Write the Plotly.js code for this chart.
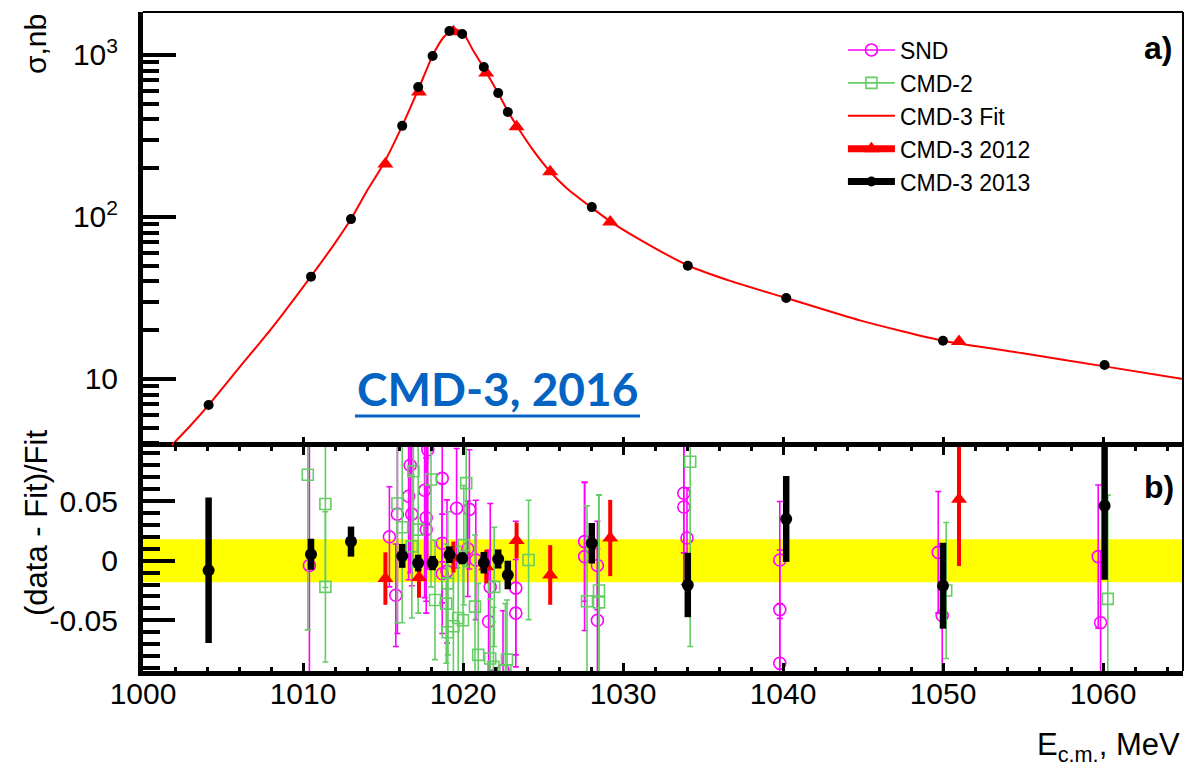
<!DOCTYPE html>
<html>
<head>
<meta charset="utf-8">
<script src="https://cdn.plot.ly/plotly-3.0.1.min.js"></script>
<style>
  html, body { margin: 0; padding: 0; background: #fff; }
  #chart { width: 1194px; height: 769px; }
</style>
</head>
<body>
<div id="chart"></div>
<script>
// phi(1020) -> K+K- cross section: CMD-3 scans with fit, and residuals vs SND / CMD-2

// CMD-3 2013 scan
const E2013 = [1004.1, 1010.5, 1013.0, 1016.2, 1017.2, 1018.1, 1019.15, 1019.95, 1021.3, 1022.2, 1022.8, 1028.05, 1034.05, 1040.2, 1050.0, 1060.1];
const sigma2013 = [6.9, 42.8, 97, 365, 634, 986, 1406, 1348, 843, 582, 444, 115, 50, 31.6, 17.2, 12.2];
const resid2013 = [-0.008, 0.0054, 0.016, 0.004, -0.002, -0.002, 0.005, 0.002, -0.0017, 0.0014, -0.012, 0.0146, -0.0204, 0.035, -0.021, 0.046];
const err2013 = [0.061, 0.013, 0.0126, 0.01, 0.007, 0.006, 0.007, 0.005, 0.009, 0.008, 0.012, 0.017, 0.027, 0.036, 0.036, 0.062];

// CMD-3 2012 scan
const E2012 = [1015.15, 1017.25, 1019.4, 1021.45, 1023.35, 1025.45, 1029.2, 1051.0];
const sigma2012 = [212, 590, 1390, 774, 360, 190, 93, 17];
const resid2012 = [-0.015, -0.014, 0.003, -0.005, 0.017, -0.012, 0.019, 0.0515];
const err2012 = [0.022, 0.017, 0.013, 0.014, 0.015, 0.025, 0.032, 0.056];

// CMD-3 fit curve
const fitE = [1001.8, 1003.0, 1004.1, 1006.0, 1008.0, 1010.5, 1012.0, 1013.0, 1014.0, 1015.0, 1016.2, 1017.2, 1018.1, 1018.8, 1019.45, 1020.0, 1020.6, 1021.3, 1022.2, 1022.8, 1023.4, 1024.3, 1025.45, 1026.5, 1028.0, 1029.2, 1031.0, 1034.1, 1036.8, 1040.2, 1044.8, 1050.0, 1055.0, 1060.0, 1065.0];
const fitSigma = [3.9, 5.2, 6.9, 11.7, 20.3, 43, 69, 97, 145, 210, 365, 610, 990, 1290, 1440, 1370, 1080, 830, 580, 450, 360, 265, 190, 150, 115, 94, 73, 50, 40, 31.6, 23, 17.2, 14.4, 12.0, 10.0];

// SND residuals
const E_SND = [1010.4, 1015.4, 1015.8, 1015.9, 1016.7, 1016.6, 1016.8, 1017.8, 1017.6, 1017.7, 1017.7, 1018.7, 1018.7, 1018.7, 1019.0, 1019.6, 1020.3, 1020.4, 1020.8, 1021.6, 1021.7, 1022.5, 1023.3, 1023.3, 1027.6, 1027.6, 1028.4, 1028.4, 1033.8, 1033.8, 1034.0, 1039.8, 1039.8, 1039.8, 1049.7, 1049.95, 1059.7, 1059.85];
const resid_SND = [-0.004, 0.020, -0.029, 0.039, 0.080, 0.054, 0.039, 0.093, 0.059, 0.036, 0.026, 0.069, 0.0146, -0.011, -0.009, 0.044, 0.010, 0.043, 0.0006, -0.051, -0.022, -0.092, -0.023, -0.044, 0.016, 0.0034, -0.004, -0.050, 0.0565, 0.045, 0.019, 0.0006, -0.041, -0.086, 0.007, -0.046, 0.0034, -0.052];
const err_SND = [0.10, 0.042, 0.043, 0.10, 0.09, 0.07, 0.06, 0.10, 0.09, 0.08, 0.06, 0.07, 0.05, 0.05, 0.06, 0.05, 0.04, 0.05, 0.05, 0.06, 0.07, 0.05, 0.056, 0.045, 0.05, 0.062, 0.037, 0.06, 0.05, 0.065, 0.042, 0.049, 0.05, 0.05, 0.051, 0.06, 0.06, 0.06];

// CMD-2 residuals
const E_CMD2 = [1010.3, 1011.4, 1011.4, 1015.9, 1016.2, 1016.9, 1016.8, 1017.2, 1018.0, 1018.25, 1018.95, 1019.05, 1019.05, 1019.4, 1019.7, 1020.0, 1020.2, 1020.05, 1020.75, 1020.95, 1021.7, 1021.95, 1021.9, 1022.65, 1022.75, 1024.1, 1027.75, 1028.5, 1028.5, 1034.2, 1050.2, 1060.3];
const resid_CMD2 = [0.072, 0.0475, -0.022, 0.048, 0.028, 0.075, 0.012, 0.026, 0.068, -0.033, -0.036, -0.019, -0.060, -0.055, -0.048, -0.050, 0.065, 0.013, -0.0385, -0.079, -0.082, -0.022, -0.089, -0.092, -0.083, 0.0006, -0.034, -0.025, -0.035, 0.083, -0.025, -0.032];
const err_CMD2 = [0.13, 0.07, 0.063, 0.10, 0.08, 0.08, 0.06, 0.07, 0.09, 0.05, 0.05, 0.06, 0.045, 0.05, 0.06, 0.05, 0.07, 0.05, 0.06, 0.06, 0.05, 0.05, 0.05, 0.056, 0.05, 0.05, 0.08, 0.08, 0.09, 0.155, 0.057, 0.087];

// systematic band of the fit, +/- fraction
const bandHalfWidth = 0.018;

const FONT = 'Liberation Sans, Arial, Helvetica, sans-serif';
const MAGENTA = '#FF00FF';
const GREEN = '#66CC66';
const RED = '#FF0000';

const traces = [
  // residual panel
  {
    x: E_SND, y: resid_SND, xaxis: 'x', yaxis: 'y2', mode: 'markers', showlegend: false,
    marker: {symbol: 'circle-open', size: 12, color: MAGENTA, line: {width: 1.6, color: MAGENTA}},
    error_y: {type: 'data', array: err_SND, color: MAGENTA, thickness: 1.6, width: 3}
  },
  {
    x: E_CMD2, y: resid_CMD2, xaxis: 'x', yaxis: 'y2', mode: 'markers', showlegend: false,
    marker: {symbol: 'square-open', size: 11, color: GREEN, line: {width: 1.6, color: GREEN}},
    error_y: {type: 'data', array: err_CMD2, color: GREEN, thickness: 1.6, width: 3}
  },
  {
    x: E2012, y: resid2012, xaxis: 'x', yaxis: 'y2', mode: 'markers', showlegend: false,
    marker: {symbol: 'triangle-up', size: 14, color: RED},
    error_y: {type: 'data', array: err2012, color: RED, thickness: 4, width: 0}
  },
  {
    x: E2013, y: resid2013, xaxis: 'x', yaxis: 'y2', mode: 'markers', showlegend: false,
    marker: {symbol: 'circle', size: 12, color: '#000'},
    error_y: {type: 'data', array: err2013, color: '#000', thickness: 6.5, width: 0}
  },
  // cross-section panel
  {
    x: fitE, y: fitSigma, xaxis: 'x2', yaxis: 'y', mode: 'lines', showlegend: false,
    line: {color: RED, width: 2, shape: 'spline', smoothing: 0.6}
  },
  {
    x: E2012, y: sigma2012, xaxis: 'x2', yaxis: 'y', mode: 'markers', showlegend: false,
    marker: {symbol: 'triangle-up', size: 14, color: RED}
  },
  {
    x: E2013, y: sigma2013, xaxis: 'x2', yaxis: 'y', mode: 'markers', showlegend: false,
    marker: {symbol: 'circle', size: 10, color: '#000'}
  },
  // legend entries
  {x: [null], y: [null], xaxis: 'x2', yaxis: 'y', name: 'SND', mode: 'lines+markers',
   line: {color: MAGENTA, width: 1.6}, marker: {symbol: 'circle-open', size: 12, color: MAGENTA, line: {width: 1.6, color: MAGENTA}}},
  {x: [null], y: [null], xaxis: 'x2', yaxis: 'y', name: 'CMD-2', mode: 'lines+markers',
   line: {color: GREEN, width: 1.6}, marker: {symbol: 'square-open', size: 11, color: GREEN, line: {width: 1.6, color: GREEN}}},
  {x: [null], y: [null], xaxis: 'x2', yaxis: 'y', name: 'CMD-3 Fit', mode: 'lines',
   line: {color: RED, width: 2}},
  {x: [null], y: [null], xaxis: 'x2', yaxis: 'y', name: 'CMD-3 2012', mode: 'lines+markers',
   line: {color: RED, width: 7}, marker: {symbol: 'triangle-up', size: 14, color: RED}},
  {x: [null], y: [null], xaxis: 'x2', yaxis: 'y', name: 'CMD-3 2013', mode: 'lines+markers',
   line: {color: '#000', width: 7}, marker: {symbol: 'circle', size: 10, color: '#000'}}
];

const tickFont = {family: FONT, size: 30, color: '#000'};

const layout = {
  width: 1194, height: 769,
  margin: {l: 143, r: 11, t: 12, b: 98},
  paper_bgcolor: '#fff', plot_bgcolor: '#fff',
  font: {family: FONT, color: '#000'},
  showlegend: true,
  legend: {
    x: 0.673, y: 0.975, xanchor: 'left', yanchor: 'top',
    bgcolor: 'rgba(0,0,0,0)', borderwidth: 0,
    font: {family: FONT, size: 23, color: '#000'},
    itemwidth: 47, traceorder: 'normal'
  },
  xaxis: {
    anchor: 'y2', domain: [0, 1], range: [1000, 1065],
    tickmode: 'linear', tick0: 1000, dtick: 10,
    ticks: 'inside', ticklen: 8, tickwidth: 3, tickcolor: '#000',
    minor: {ticks: 'inside', dtick: 2, ticklen: 4, tickwidth: 3, tickcolor: '#000'},
    showline: true, linewidth: 5, linecolor: '#000', mirror: 'ticks',
    showgrid: false, zeroline: false,
    tickfont: tickFont, ticklabelstandoff: -8
  },
  xaxis2: {
    anchor: 'y', matches: 'x', domain: [0, 1], range: [1000, 1065],
    tickmode: 'linear', tick0: 1000, dtick: 10,
    ticks: 'inside', ticklen: 10, tickwidth: 3, tickcolor: '#000',
    minor: {ticks: 'inside', dtick: 2, ticklen: 5, tickwidth: 3, tickcolor: '#000'},
    showline: false,
    showgrid: false, zeroline: false, showticklabels: false
  },
  yaxis: {
    domain: [0.3399, 1], type: 'log', range: [0.58, 3.265],
    tickmode: 'array', tickvals: [10, 100, 1000], ticktext: ['10', '10<sup>2</sup>', '10<sup>3</sup>'],
    ticks: 'inside', ticklen: 33, tickwidth: 4, tickcolor: '#000',
    minor: {ticks: 'inside', dtick: 'D1', ticklen: 16, tickwidth: 4, tickcolor: '#000'},
    showline: true, linewidth: 5, linecolor: '#000',
    showgrid: false, zeroline: false,
    tickfont: tickFont, ticklabelstandoff: 14
  },
  yaxis2: {
    domain: [0, 0.3399], range: [-0.0925, 0.0953],
    tickmode: 'array', tickvals: [-0.05, 0, 0.05], ticktext: ['-0.05', '0', '0.05'],
    ticks: 'inside', ticklen: 32, tickwidth: 4, tickcolor: '#000',
    minor: {ticks: 'inside', dtick: 0.01, tick0: 0, ticklen: 17, tickwidth: 4, tickcolor: '#000'},
    showline: true, linewidth: 5, linecolor: '#000',
    showgrid: false, zeroline: false,
    tickfont: tickFont, ticklabelstandoff: 14
  },
  shapes: [
    {type: 'rect', xref: 'x', yref: 'y2', x0: 1000, x1: 1065, y0: -bandHalfWidth, y1: bandHalfWidth,
     fillcolor: '#FFFF00', line: {width: 0}, layer: 'below'},
    // thin upper and right frame edges
    {type: 'line', xref: 'paper', yref: 'paper', x0: 0, x1: 1, y0: 1, y1: 1, line: {color: '#000', width: 2}},
    {type: 'line', xref: 'paper', yref: 'paper', x0: 1, x1: 1, y0: 0, y1: 1, line: {color: '#000', width: 2}},
    // underline of the caption
    {type: 'line', xref: 'paper', yref: 'paper', x0: 0.2038, x1: 0.4779, y0: 0.3869, y1: 0.3869,
     line: {color: '#0563C1', width: 3}}
  ],
  annotations: [
    {text: 'CMD-3, 2016', xref: 'paper', yref: 'paper', x: 0.3413, y: 0.4294, xanchor: 'center', yanchor: 'middle',
     showarrow: false, font: {family: 'Lato, Carlito, sans-serif', size: 46, color: '#0563C1', weight: 'bold'}},
    {text: '<b>a)</b>', xref: 'paper', yref: 'paper', x: 0.976, y: 0.9454, xanchor: 'center', yanchor: 'middle',
     showarrow: false, font: {family: FONT, size: 32, color: '#000'}},
    {text: '<b>b)</b>', xref: 'paper', yref: 'paper', x: 0.977, y: 0.2792, xanchor: 'center', yanchor: 'middle',
     showarrow: false, font: {family: FONT, size: 32, color: '#000'}},
    {text: 'σ,nb', xref: 'paper', yref: 'paper', x: -0.1038, y: 0.9514, xanchor: 'center', yanchor: 'middle',
     textangle: -90, showarrow: false, font: {family: FONT, size: 30, color: '#000'}},
    {text: '(data - Fit)/Fit', xref: 'paper', yref: 'paper', x: -0.1019, y: 0.2246, xanchor: 'center', yanchor: 'middle',
     textangle: -90, showarrow: false, font: {family: FONT, size: 31, color: '#000'}},
    {text: 'E<sub>c.m.</sub>, MeV', xref: 'paper', yref: 'paper', x: 0.999, y: -0.116, xanchor: 'right', yanchor: 'middle',
     showarrow: false, font: {family: FONT, size: 31, color: '#000'}}
  ]
};

Plotly.newPlot('chart', traces, layout, {displayModeBar: false, staticPlot: true});
</script>
</body>
</html>
